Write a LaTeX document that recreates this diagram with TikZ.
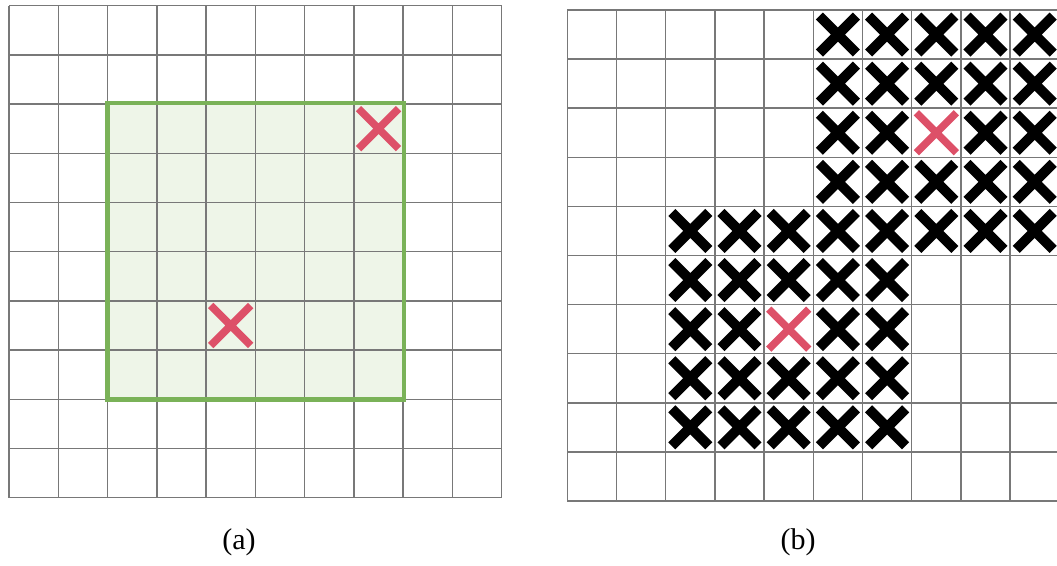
\documentclass[tikz,border=0pt]{standalone}
\usepackage{fontspec}
\setmainfont{Liberation Serif}
\begin{document}
\begin{tikzpicture}[x=1pt,y=-1pt,
  gridline/.style={draw={rgb,255:red,120;green,120;blue,120},line width=1.5pt},
  greenline/.style={draw={rgb,255:red,122;green,178;blue,88},line width=4.5pt},
  greenfill/.style={fill={rgb,255:red,238;green,245;blue,232}},
  redxs/.style={draw={rgb,255:red,221;green,80;blue,104},line width=7.5pt},
  blackxs/.style={draw=black,line width=10pt},
  redx/.pic={\draw[redxs] (-20,-20)--(20,20) (-20,20)--(20,-20);},
  blackx/.pic={\draw[blackxs] (-18.5,-18.5)--(18.5,18.5) (-18.5,18.5)--(18.5,-18.5);},
  lab/.style={font=\fontsize{30}{34}\selectfont,inner sep=0pt}]
\useasboundingbox (0,0) rectangle (1057,565);
\fill[white] (0,0) rectangle (1057,565);
% ---- panel (a)
\fill[greenfill] (107.6,103) rectangle (403.4,399.3);
\foreach \i in {0,...,10}{
  \draw[gridline] ({9+49.27*\i},5.7) -- ({9+49.27*\i},497.7);
  \draw[gridline] (9,{5.7+49.2*\i}) -- (501.7,{5.7+49.2*\i});
}
\draw[greenline] (107.6,103) rectangle (404,399.3);
\pic at ({9+49.27*7.5},{5.7+49.2*2.5}) {redx};
\pic at ({9+49.27*4.5},{5.7+49.2*6.5}) {redx};
% ---- panel (b)
\begin{scope}
\clip (0,0) rectangle (1057,565);
\foreach \c/\r in {5/0,6/0,7/0,8/0,9/0, 5/1,6/1,7/1,8/1,9/1, 5/2,6/2,8/2,9/2, 5/3,6/3,7/3,8/3,9/3,
  2/4,3/4,4/4,5/4,6/4,7/4,8/4,9/4, 2/5,3/5,4/5,5/5,6/5, 2/6,3/6,5/6,6/6, 2/7,3/7,4/7,5/7,6/7, 2/8,3/8,4/8,5/8,6/8}
  \pic at ({567.3+49.2*(\c+0.5)},{10+49.1*(\r+0.5)}) {blackx};
\foreach \i in {0,...,10}{
  \draw[gridline] ({567.3+49.2*\i},10) -- ({567.3+49.2*\i},501);
  \draw[gridline] (567.3,{10+49.1*\i}) -- (1060,{10+49.1*\i});
}
\pic at ({567.3+49.2*7.5},{10+49.1*2.5}) {redx};
\pic at ({567.3+49.2*4.5},{10+49.1*6.5}) {redx};
\end{scope}
% ---- labels
\node[lab] (la) at (239,542) {(a)};
\node[lab] (lb) at (798,542) {(b)};
\end{tikzpicture}
\end{document}
